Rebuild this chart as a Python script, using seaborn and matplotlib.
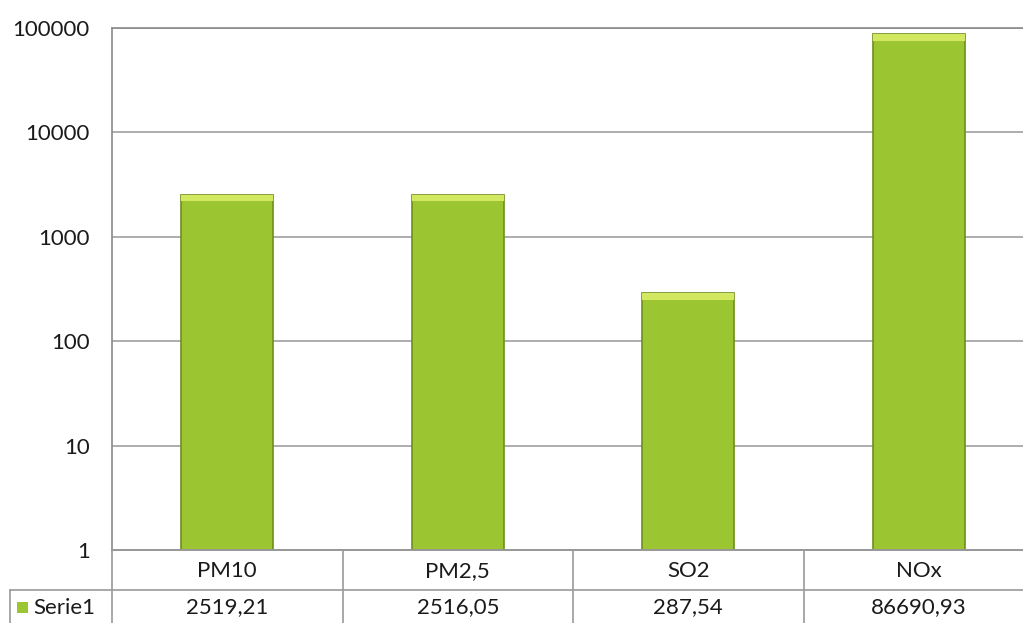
import matplotlib
matplotlib.use("Agg")
import matplotlib.pyplot as plt
import seaborn as sns
import numpy as np
from matplotlib.lines import Line2D
from matplotlib.patches import Rectangle
from matplotlib.ticker import FuncFormatter, NullLocator, FixedLocator

categories = ["PM10", "PM2,5", "SO2", "NOx"]
values = [2519.21, 2516.05, 287.54, 86690.93]
value_labels = ["2519,21", "2516,05", "287,54", "86690,93"]
series_name = "Serie1"
yticks = [1, 10, 100, 1000, 10000, 100000]

sns.set_style("white")
plt.rcParams["font.family"] = ["Lato", "DejaVu Sans"]

W, H = 1023, 623
fig = plt.figure(figsize=(W / 100, H / 100), dpi=100)

def fx(x):
    return x / W

def fy(y):
    return 1 - y / H

FS = 16
TC = "#1a1a1a"

ax_left, ax_right, ax_top, ax_bot = 112, 1034, 28, 550
ax = fig.add_axes([fx(ax_left), fy(ax_bot), fx(ax_right - ax_left), (ax_bot - ax_top) / H])

bar_color = "#9cc532"
sns.barplot(x=categories, y=values, color=bar_color, width=0.4, ax=ax,
            saturation=1, edgecolor="#6f8f1c", linewidth=1.2)
ax.set_yscale("log")
ax.set_ylim(1, 100000)
ax.set_xlim(-0.5, len(categories) - 0.5)
ax.yaxis.set_major_locator(FixedLocator(yticks))
ax.yaxis.set_minor_locator(NullLocator())
ax.yaxis.set_major_formatter(FuncFormatter(lambda v, p: f"{int(round(v))}"))
ax.tick_params(axis="y", labelsize=FS, length=0, pad=16, labelcolor=TC)
ax.tick_params(axis="x", bottom=False, labelbottom=False)
ax.set_xlabel("")
ax.set_ylabel("")
ax.grid(axis="y", color="#a0a0a0", linewidth=1.2)
ax.set_axisbelow(True)
for s in ["left", "top", "bottom"]:
    ax.spines[s].set_color("#8a8a8a")
    ax.spines[s].set_linewidth(1.2)
ax.spines["right"].set_visible(False)

# light bevel on bar tops
for patch in ax.patches[:]:
    x0 = patch.get_x()
    w = patch.get_width()
    h = patch.get_height()
    ax.add_patch(Rectangle((x0, h / 1.15), w, h - h / 1.15, facecolor="#d2e860",
                           edgecolor="none", zorder=patch.get_zorder() + 0.1))

# table below
lc = "#9a9a9a"
def hline(x0, x1, y):
    fig.add_artist(Line2D([fx(x0), fx(x1)], [fy(y), fy(y)], color=lc, lw=1.2))

def vline(x, y0, y1):
    fig.add_artist(Line2D([fx(x), fx(x)], [fy(y0), fy(y1)], color=lc, lw=1.2))

col_w = (ax_right - ax_left) / len(categories)
row1, row2, row3 = 550, 590, 623
hline(ax_left, W, row1)
hline(10, W, row2)
vline(10, row2, row3)
vline(ax_left, row1, row3)
for i in range(1, len(categories)):
    vline(ax_left + i * col_w, row1, row3)

for i, (c, v) in enumerate(zip(categories, value_labels)):
    cx = ax_left + (i + 0.5) * col_w
    fig.text(fx(cx), fy((row1 + row2) / 2 + 1), c, ha="center", va="center", fontsize=FS, color=TC)
    fig.text(fx(cx), fy((row2 + row3) / 2 + 1), v, ha="center", va="center", fontsize=FS, color=TC)

fig.add_artist(Rectangle((fx(17), fy(613)), fx(11), 11 / H, transform=fig.transFigure,
                         facecolor=bar_color, edgecolor="none"))
fig.text(fx(33), fy((row2 + row3) / 2 + 1), series_name, ha="left", va="center", fontsize=FS, color=TC)

fig.savefig("out.png", dpi=100)
